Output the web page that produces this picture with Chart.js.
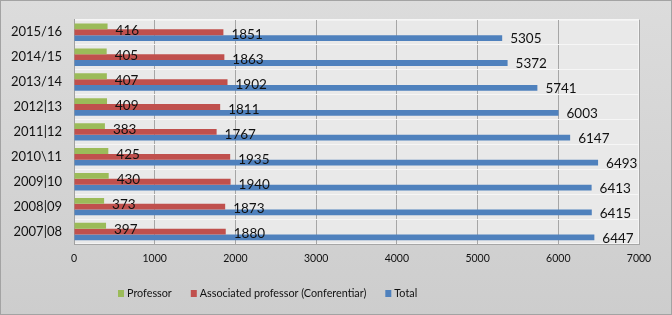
<!DOCTYPE html>
<html>
<head>
<meta charset="utf-8">
<script src="https://cdn.jsdelivr.net/npm/chart.js@4"></script>
<style>
html, body { margin: 0; padding: 0; background: #d4d4d4; }
</style>
</head>
<body>
<canvas id="chart" width="672" height="315"></canvas>
<script>
// values
var years = ['2015/16', '2014/15', '2013/14', '2012|13', '2011|12', '2010\\11', '2009|10', '2008|09', '2007|08'];
var professor = [416, 405, 407, 409, 383, 425, 430, 373, 397];
var associated = [1851, 1863, 1902, 1811, 1767, 1935, 1940, 1873, 1880];
var total = [5305, 5372, 5741, 6003, 6147, 6493, 6413, 6415, 6447];
var seriesNames = ['Professor', 'Associated professor (Conferentiar)', 'Total'];
var seriesColors = ['#9bbb59', '#c0504d', '#4f81bd'];
var xMax = 7000;
var xStep = 1000;

var bgPlugin = {
    id: 'bg',
    beforeDraw: function(chart) {
        var c = chart.ctx, a = chart.chartArea;
        var g = c.createLinearGradient(0, 0, 0, chart.height);
        g.addColorStop(0, '#dcdcdc');
        g.addColorStop(1, '#cdcdcd');
        c.save();
        c.fillStyle = g;
        c.fillRect(0, 0, chart.width, chart.height);
        c.fillStyle = '#e9e9e9';
        c.fillRect(a.left, a.top, a.right - a.left, a.bottom - a.top);
        c.strokeStyle = '#f4f4f4';
        c.strokeRect(a.left + 0.5, a.top + 0.5, a.right - a.left - 1, a.bottom - a.top - 1);
        c.strokeStyle = '#a3a3a3';
        c.strokeRect(0.5, 0.5, chart.width - 1, chart.height - 1);
        c.restore();
    }
};

// value labels sit a little below each bar's centre, as in the original
var labelShift = [4, 2.5, 1];
var labelPlugin = {
    id: 'barLabels',
    afterDatasetsDraw: function(chart) {
        var c = chart.ctx;
        c.save();
        c.font = '13.5px Lato';
        c.fillStyle = '#111111';
        c.textBaseline = 'middle';
        chart.data.datasets.forEach(function(ds, i) {
            chart.getDatasetMeta(i).data.forEach(function(el, j) {
                c.fillText(ds.data[j], el.x + 8, el.y + labelShift[i]);
            });
        });
        c.restore();
    }
};

// legend drawn by hand so it sits left of centre like the original
var legendPlugin = {
    id: 'sideLegend',
    afterDraw: function(chart) {
        var c = chart.ctx;
        var x = 118, y = 293;
        c.save();
        c.font = '10.8px Lato';
        c.textBaseline = 'middle';
        chart.data.datasets.forEach(function(ds) {
            c.fillStyle = ds.backgroundColor;
            c.fillRect(x, y - 3, 6, 7);
            c.fillStyle = '#111111';
            c.fillText(ds.label, x + 9, y + 1);
            x += 9 + c.measureText(ds.label).width + 19;
        });
        c.restore();
    }
};

var ctx = document.getElementById('chart');
var myChart = new Chart(ctx, {
    type: 'bar',
    data: {
        labels: years,
        datasets: [{
            label: seriesNames[0],
            data: professor,
            backgroundColor: seriesColors[0]
        }, {
            label: seriesNames[1],
            data: associated,
            backgroundColor: seriesColors[1]
        }, {
            label: seriesNames[2],
            data: total,
            backgroundColor: seriesColors[2]
        }]
    },
    options: {
        indexAxis: 'y',
        responsive: false,
        animation: false,
        barPercentage: 1,
        categoryPercentage: 0.7,
        layout: {
            padding: { top: 17, right: 33, left: 0, bottom: 43 }
        },
        plugins: {
            legend: { display: false },
            tooltip: { enabled: false }
        },
        scales: {
            x: {
                min: 0,
                max: xMax,
                ticks: {
                    stepSize: xStep,
                    padding: 8,
                    color: '#111111',
                    font: { family: 'Lato', size: 10.5 },
                    callback: function(v) { return String(v); }
                },
                grid: { color: '#a6a6a6', drawTicks: false },
                border: { color: '#a6a6a6' },
                afterFit: function(scale) { scale.height = 28; }
            },
            y: {
                ticks: {
                    padding: 12,
                    color: '#111111',
                    font: { family: 'Lato', size: 13 }
                },
                grid: { color: '#f6f6f6', drawTicks: false },
                border: { color: '#a0a0a0' },
                afterFit: function(scale) { scale.width = 74; }
            }
        }
    },
    plugins: [bgPlugin, labelPlugin, legendPlugin]
});
</script>
</body>
</html>
